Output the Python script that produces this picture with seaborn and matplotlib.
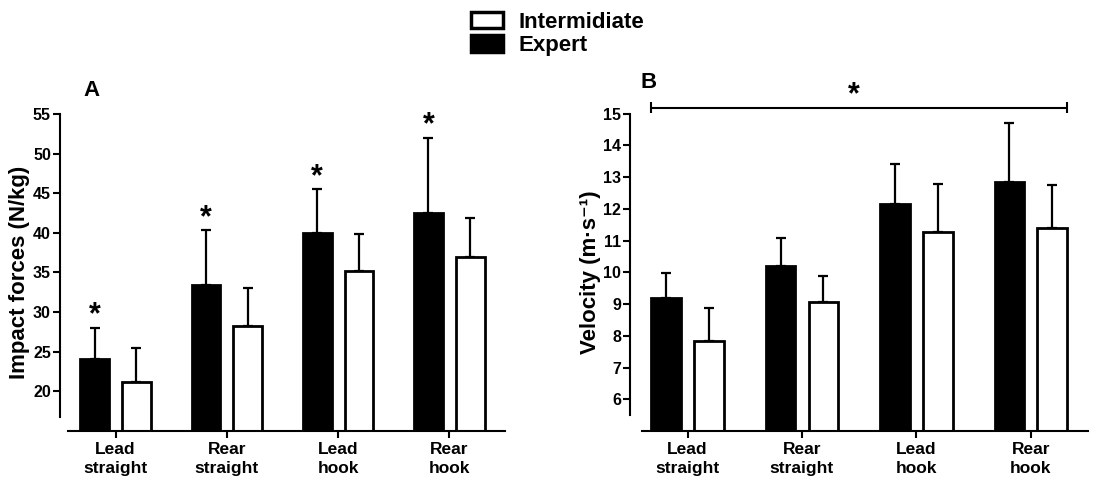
import numpy as np
import pandas as pd
import matplotlib
matplotlib.use("Agg")  # Non-GUI backend
import matplotlib.pyplot as plt
from matplotlib.patches import Patch
import seaborn as sns

# Data (mean and SD, upper error only)
categories = ["Lead\nstraight", "Rear\nstraight", "Lead\nhook", "Rear\nhook"]
groups = ["Expert", "Intermidiate"]

force_expert = [24.1, 33.4, 40.0, 42.5]
force_expert_sd = [3.9, 6.9, 5.5, 9.5]
force_inter = [21.2, 28.2, 35.2, 36.9]
force_inter_sd = [4.3, 4.8, 4.7, 5.0]

vel_expert = [9.18, 10.19, 12.16, 12.85]
vel_expert_sd = [0.80, 0.89, 1.27, 1.85]
vel_inter = [7.83, 9.07, 11.26, 11.40]
vel_inter_sd = [1.05, 0.80, 1.53, 1.34]

sns.set_style("ticks")
plt.rcParams["font.family"] = ["Liberation Sans", "DejaVu Sans"]
plt.rcParams["font.weight"] = "bold"
plt.rcParams["axes.labelweight"] = "bold"
for key in ["text.color", "axes.labelcolor", "xtick.color", "ytick.color", "axes.edgecolor"]:
	plt.rcParams[key] = "black"

fig = plt.figure(figsize=(11.02, 4.79), dpi=100)


def draw_panel(ax, expert, expert_sd, inter, inter_sd, ylim, yticks, spine_lo, xlo, ylabel):
	df = pd.DataFrame({
		"punch": categories * 2,
		"group": [groups[0]] * 4 + [groups[1]] * 4,
		"value": expert + inter,
	})
	sns.barplot(data=df, x="punch", y="value", hue="group", order=categories, hue_order=groups,
				palette={"Expert": "black", "Intermidiate": "white"}, saturation=1,
				width=0.75, gap=0.31, edgecolor="black", linewidth=2, errorbar=None,
				legend=False, ax=ax)
	# upward error bars, behind the bars
	for cont, vals, sds in zip(ax.containers, [expert, inter], [expert_sd, inter_sd]):
		xs = [p.get_x() + p.get_width() / 2 for p in cont]
		ax.errorbar(xs, vals, yerr=[np.zeros(len(vals)), sds], fmt="none", ecolor="black",
					elinewidth=1.6, capsize=3.6, capthick=1.6, zorder=0.9)
	ax.set_xlim(-0.5, 3.5)
	ax.set_ylim(*ylim)
	ax.set_yticks(yticks)
	ax.set_xticks(range(len(categories)), labels=categories, linespacing=1.35)
	ax.set_xlabel("")
	ax.set_ylabel(ylabel, fontsize=16, labelpad=2)
	sns.despine(ax=ax)
	for s in ["left", "bottom"]:
		ax.spines[s].set_linewidth(1.5)
	ax.spines["left"].set_bounds(spine_lo, ylim[1])
	ax.spines["bottom"].set_bounds(xlo, 3.5)
	ax.tick_params(axis="both", direction="out", length=5, width=1.5)
	ax.tick_params(axis="x", labelsize=12.5, pad=3)
	ax.tick_params(axis="y", labelsize=11.5, pad=1.5)
	return ax


# Panel A
axA = fig.add_axes([0.0544, 0.1008, 0.4038, 0.6612])
draw_panel(axA, force_expert, force_expert_sd, force_inter, force_inter_sd,
		   (15, 55), range(20, 56, 5), 16.7, -0.43, "Impact forces (N/kg)")
for p, m, s in zip(axA.containers[0], force_expert, force_expert_sd):
	axA.annotate("*", xy=(p.get_x() + p.get_width() / 2, m + s), xytext=(0, -2),
				 textcoords="offset points", ha="center", va="bottom",
				 fontsize=22, annotation_clip=False)

# Panel B
axB = fig.add_axes([0.5720, 0.1002, 0.4153, 0.6624])
draw_panel(axB, vel_expert, vel_expert_sd, vel_inter, vel_inter_sd,
		   (5, 15), range(6, 16), 5.5, -0.40, "Velocity (m·s⁻¹)")
first = axB.containers[0][0]
last = axB.containers[1][-1]
x0 = first.get_x()
x1 = last.get_x() + last.get_width()
yb = 15.19
axB.plot([x0, x1], [yb, yb], color="black", lw=1.5, clip_on=False)
axB.vlines([x0, x1], yb - 0.18, yb + 0.18, color="black", lw=1.5, clip_on=False)
axB.annotate("*", xy=((x0 + x1) / 2 - 0.05, yb), xytext=(0, -2), textcoords="offset points",
			 ha="center", va="bottom", fontsize=22, annotation_clip=False)

# panel letters
fig.text(91 / 1102, 1 - 91 / 479, "A", fontsize=16, ha="center", va="center")
fig.text(649 / 1102, 1 - 82 / 479, "B", fontsize=16, ha="center", va="center")

# legend
handles = [Patch(facecolor="white", edgecolor="black", linewidth=2.5),
		   Patch(facecolor="black", edgecolor="black", linewidth=2.5)]
fig.legend(handles, ["Intermidiate", "Expert"], loc="center left",
		   bbox_to_anchor=(455 / 1102, 1 - 34 / 479), frameon=False, fontsize=16,
		   handlelength=1.45, handleheight=0.75, handletextpad=0.7, labelspacing=0.12,
		   borderpad=0.2)

fig.savefig("out.png", dpi=100)
plt.close(fig)
